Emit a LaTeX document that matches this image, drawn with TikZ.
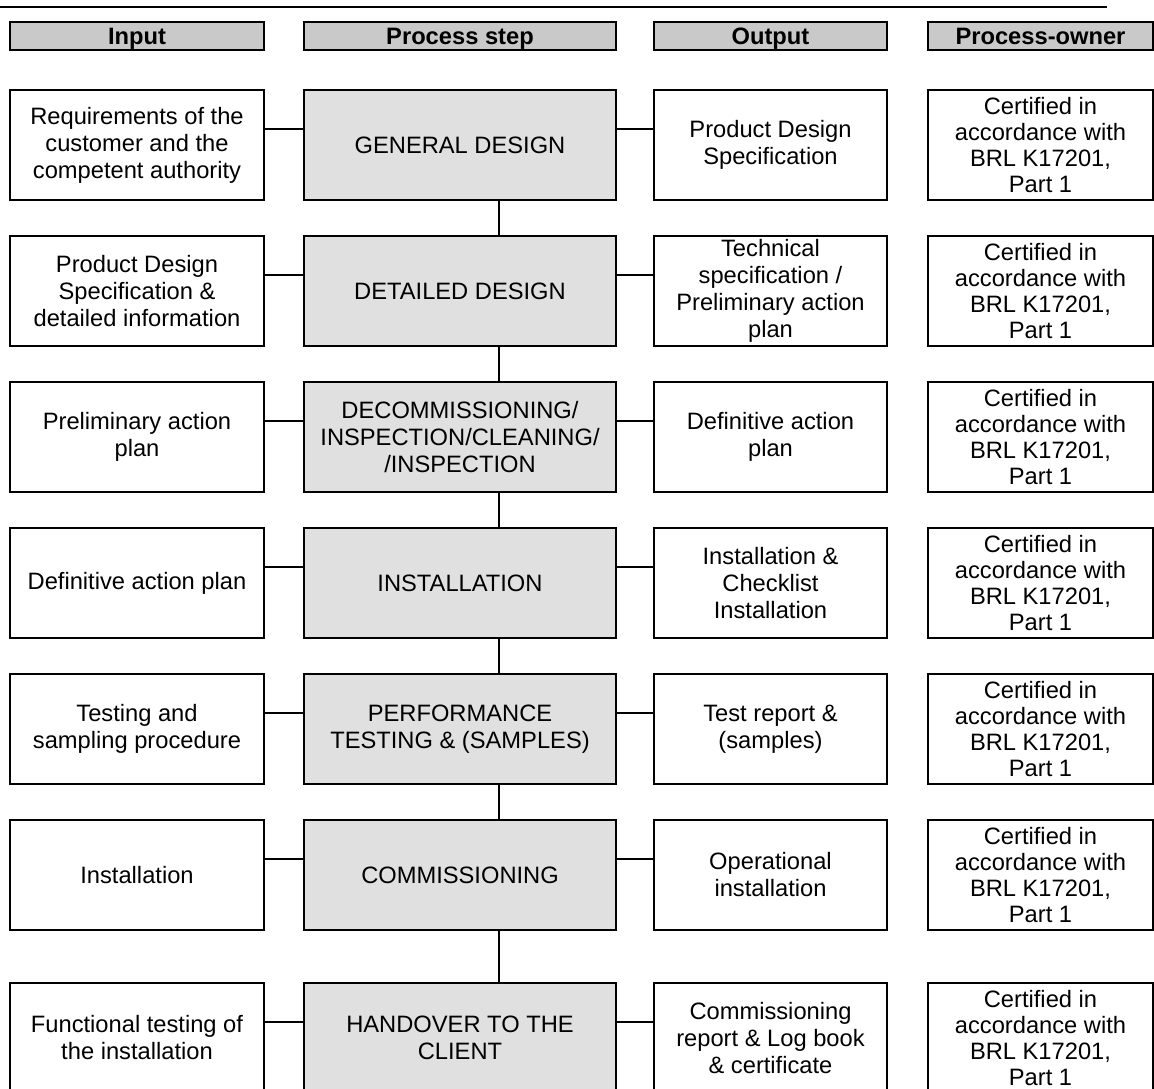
\documentclass[tikz,border=0pt]{standalone}
\usepackage{fontspec}
\setmainfont{Liberation Sans}
\usepackage{tikz}
\usetikzlibrary{positioning}
\newcommand{\ipotext}{\fontsize{23.7pt}{27pt}\selectfont}
\newcommand{\ipoowntext}{\fontsize{23.7pt}{26pt}\selectfont}
\newcommand{\ipoheadtext}{\fontsize{23.7pt}{27pt}\selectfont\bfseries}
\colorlet{ipostepfill}{black!12}
\colorlet{ipoheadfill}{black!21}
\tikzset{
  ipobox/.style={
    draw,
    line width=2pt,
    align=center,
    inner sep=0pt,
    minimum height=110pt,
    font=\ipotext
  },
  ipoinput/.style={ipobox,minimum width=254pt},
  ipostep/.style={ipobox,fill=ipostepfill,minimum width=312pt},
  ipooutput/.style={ipobox,minimum width=233pt},
  ipoowner/.style={ipobox,minimum width=225pt,font=\ipoowntext},
  ipohead/.style={draw,line width=2pt,fill=ipoheadfill,inner sep=0pt,
                  minimum height=28pt,text height=17pt,text depth=0pt,
                  font=\ipoheadtext},
  ipolink/.style={line width=2pt},
  ipochain/.style={line width=1.3pt}
}
\begin{document}
\begin{tikzpicture}[x=1pt,y=-1pt]
  \useasboundingbox (0,0) rectangle (1154,1089);
  \clip (0,0) rectangle (1154,1089);

  % page rule
  \draw[line width=1.3pt] (0,7) -- (1107,7);

  % column heads
  \node[ipohead,minimum width=254pt] (hin) at (137,36) {Input};
  \node[ipohead,minimum width=312pt] (hstep) at (460,36) {Process step};
  \node[ipohead,minimum width=233pt] (hout) at (770.5,36) {Output};
  \node[ipohead,minimum width=225pt] (hown) at (1040.5,36) {Process-owner};

  % row 1
  \node[ipoinput] (in1) at (137,145)
    {Requirements of the\\customer and the\\competent authority};
  \node[ipostep] (step1) at (460,145) {GENERAL DESIGN};
  \node[ipooutput] (out1) at (770.5,145) {Product Design\\Specification};
  \node[ipoowner] (own1) at (1040.5,145)
    {Certified in\\accordance with\\BRL K17201,\\Part 1};

  % row 2
  \node[ipoinput] (in2) at (137,291)
    {Product Design\\Specification \&\\detailed information};
  \node[ipostep] (step2) at (460,291) {DETAILED DESIGN};
  \node[ipooutput] (out2) at (770.5,291)
    {Technical\\specification /\\Preliminary action\\plan};
  \node[ipoowner] (own2) at (1040.5,291)
    {Certified in\\accordance with\\BRL K17201,\\Part 1};

  % row 3
  \node[ipoinput] (in3) at (137,437) {Preliminary action\\plan};
  \node[ipostep] (step3) at (460,437)
    {DECOMMISSIONING/\\INSPECTION/CLEANING/\\/INSPECTION};
  \node[ipooutput] (out3) at (770.5,437) {Definitive action\\plan};
  \node[ipoowner] (own3) at (1040.5,437)
    {Certified in\\accordance with\\BRL K17201,\\Part 1};

  % row 4
  \node[ipoinput] (in4) at (137,583) {Definitive action plan};
  \node[ipostep] (step4) at (460,583) {INSTALLATION};
  \node[ipooutput] (out4) at (770.5,583)
    {Installation \&\\Checklist\\Installation};
  \node[ipoowner] (own4) at (1040.5,583)
    {Certified in\\accordance with\\BRL K17201,\\Part 1};

  % row 5
  \node[ipoinput] (in5) at (137,729) {Testing and\\sampling procedure};
  \node[ipostep] (step5) at (460,729) {PERFORMANCE\\TESTING \& (SAMPLES)};
  \node[ipooutput] (out5) at (770.5,729) {Test report \&\\(samples)};
  \node[ipoowner] (own5) at (1040.5,729)
    {Certified in\\accordance with\\BRL K17201,\\Part 1};

  % row 6
  \node[ipoinput] (in6) at (137,875) {Installation};
  \node[ipostep] (step6) at (460,875) {COMMISSIONING};
  \node[ipooutput] (out6) at (770.5,875) {Operational\\installation};
  \node[ipoowner] (own6) at (1040.5,875)
    {Certified in\\accordance with\\BRL K17201,\\Part 1};

  % row 7
  \node[ipoinput] (in7) at (137,1038)
    {Functional testing of\\the installation};
  \node[ipostep] (step7) at (460,1038) {HANDOVER TO THE\\CLIENT};
  \node[ipooutput] (out7) at (770.5,1038)
    {Commissioning\\report \& Log book\\\& certificate};
  \node[ipoowner] (own7) at (1040.5,1038)
    {Certified in\\accordance with\\BRL K17201,\\Part 1};

  % input -- step -- output links
  \draw[ipolink] ([yshift=16pt]in1.east) -- ([yshift=16pt]step1.west);
  \draw[ipolink] ([yshift=16pt]step1.east) -- ([yshift=16pt]out1.west);
  \draw[ipolink] ([yshift=16pt]in2.east) -- ([yshift=16pt]step2.west);
  \draw[ipolink] ([yshift=16pt]step2.east) -- ([yshift=16pt]out2.west);
  \draw[ipolink] ([yshift=16pt]in3.east) -- ([yshift=16pt]step3.west);
  \draw[ipolink] ([yshift=16pt]step3.east) -- ([yshift=16pt]out3.west);
  \draw[ipolink] ([yshift=16pt]in4.east) -- ([yshift=16pt]step4.west);
  \draw[ipolink] ([yshift=16pt]step4.east) -- ([yshift=16pt]out4.west);
  \draw[ipolink] ([yshift=16pt]in5.east) -- ([yshift=16pt]step5.west);
  \draw[ipolink] ([yshift=16pt]step5.east) -- ([yshift=16pt]out5.west);
  \draw[ipolink] ([yshift=16pt]in6.east) -- ([yshift=16pt]step6.west);
  \draw[ipolink] ([yshift=16pt]step6.east) -- ([yshift=16pt]out6.west);
  \draw[ipolink] ([yshift=16pt]in7.east) -- ([yshift=16pt]step7.west);
  \draw[ipolink] ([yshift=16pt]step7.east) -- ([yshift=16pt]out7.west);

  % chain of process steps
  \draw[ipochain] ([xshift=39pt]step1.south) -- ([xshift=39pt]step2.north);
  \draw[ipochain] ([xshift=39pt]step2.south) -- ([xshift=39pt]step3.north);
  \draw[ipochain] ([xshift=39pt]step3.south) -- ([xshift=39pt]step4.north);
  \draw[ipochain] ([xshift=39pt]step4.south) -- ([xshift=39pt]step5.north);
  \draw[ipochain] ([xshift=39pt]step5.south) -- ([xshift=39pt]step6.north);
  \draw[ipochain] ([xshift=39pt]step6.south) -- ([xshift=39pt]step7.north);
\end{tikzpicture}
\end{document}
